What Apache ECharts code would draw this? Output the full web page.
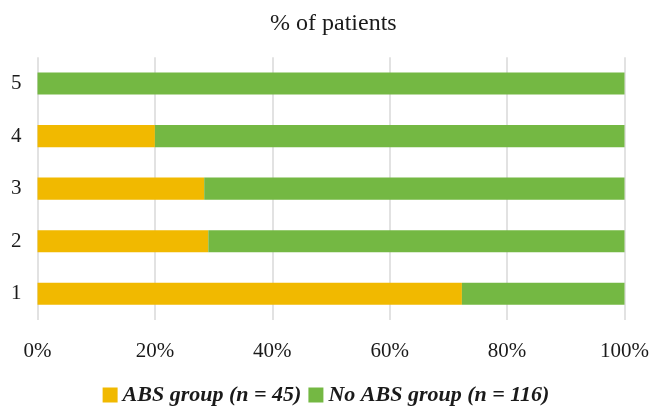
<!DOCTYPE html>
<html>
<head>
<meta charset="utf-8">
<script src="https://cdn.jsdelivr.net/npm/echarts@6/dist/echarts.min.js"></script>
<style>
html,body{margin:0;padding:0;background:#fff;}
#chart{width:652px;height:411px;}
</style>
</head>
<body>
<div id="chart"></div>
<script>
const categories = ['1', '2', '3', '4', '5'];
const absGroup = [72.3, 29.1, 28.4, 20.0, 0];
const noAbsGroup = [27.7, 70.9, 71.6, 80.0, 100];
const xTicks = [0, 20, 40, 60, 80, 100];
const seriesNames = ['ABS group (n = 45)', 'No ABS group (n = 116)'];
const titleText = '% of patients';

const FONT = '"Liberation Serif", "DejaVu Serif", serif';
const chart = echarts.init(document.getElementById('chart'), null, {renderer: 'canvas'});
chart.setOption({
  animation: false,
  backgroundColor: '#ffffff',
  title: {
    text: titleText,
    left: 265,
    top: 7,
    textStyle: {fontFamily: FONT, fontSize: 24, fontWeight: 'normal', color: '#1a1a1a'}
  },
  legend: {
    data: seriesNames,
    bottom: 0,
    left: 'center',
    itemWidth: 15,
    itemHeight: 15,
    itemGap: 7,
    icon: 'rect',
    textStyle: {fontFamily: FONT, fontSize: 22, fontWeight: 'bold', fontStyle: 'italic', color: '#1a1a1a'}
  },
  grid: {left: 37.5, right: 27, top: 57.3, bottom: 91},
  xAxis: {
    type: 'value',
    min: xTicks[0],
    max: xTicks[xTicks.length - 1],
    interval: xTicks[1] - xTicks[0],
    axisLine: {show: false},
    axisTick: {show: false},
    axisLabel: {formatter: '{value}%', fontFamily: FONT, fontSize: 21, color: '#1a1a1a', margin: 21},
    splitLine: {show: true, lineStyle: {color: '#d9d9d9', width: 1.5}}
  },
  yAxis: {
    type: 'category',
    data: categories,
    axisLine: {show: false},
    axisTick: {show: false},
    axisLabel: {fontFamily: FONT, fontSize: 21, color: '#1a1a1a', margin: 16}
  },
  series: [
    {
      name: seriesNames[0],
      type: 'bar',
      stack: 'total',
      data: absGroup,
      barWidth: '42%',
      itemStyle: {color: '#F1B900'}
    },
    {
      name: seriesNames[1],
      type: 'bar',
      stack: 'total',
      data: noAbsGroup,
      barWidth: '42%',
      itemStyle: {color: '#74B843'}
    }
  ]
});
</script>
</body>
</html>
